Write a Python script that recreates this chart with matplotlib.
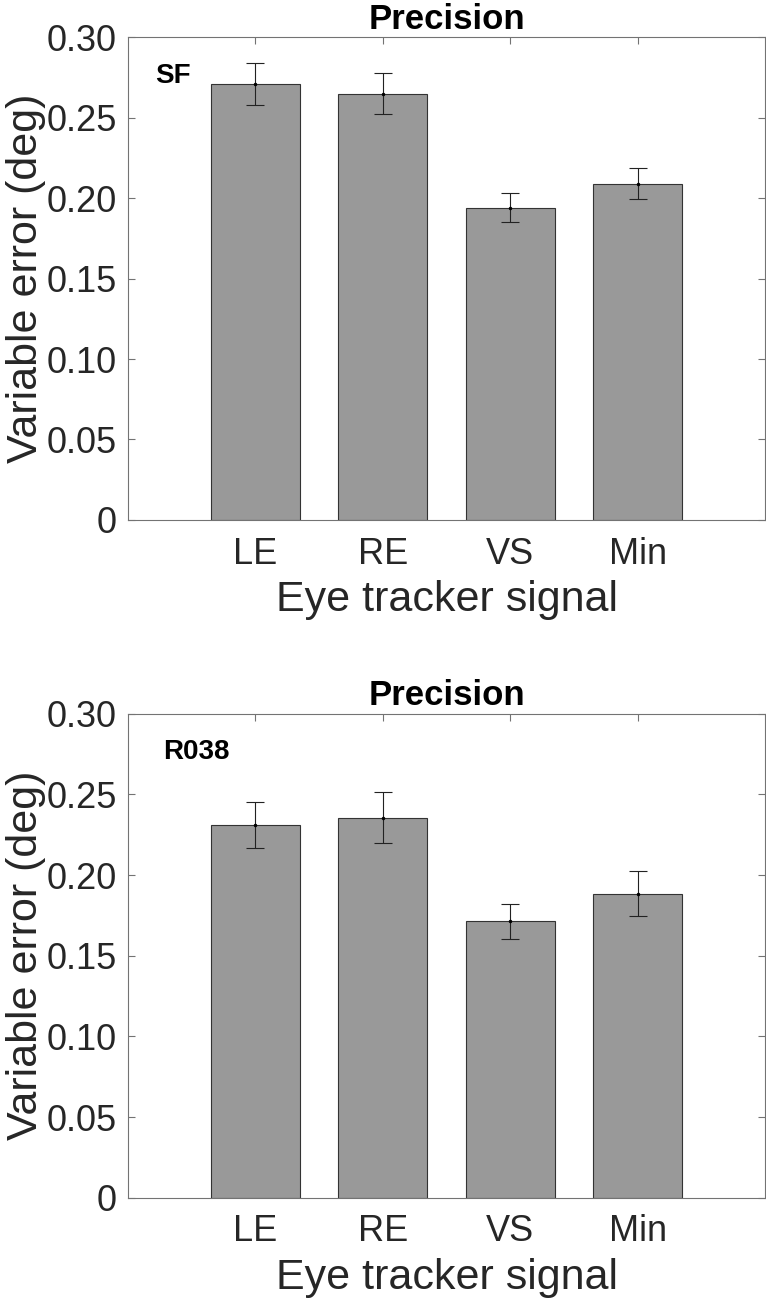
import matplotlib
matplotlib.use("Agg")
import matplotlib.pyplot as plt

plt.rcParams['font.family'] = ['Liberation Sans', 'DejaVu Sans']

signals = ['LE', 'RE', 'VS', 'Min']
sf_mean = [0.271, 0.265, 0.194, 0.209]
sf_err = [0.013, 0.0128, 0.009, 0.0095]
r038_mean = [0.231, 0.2355, 0.1713, 0.1884]
r038_err = [0.0142, 0.0158, 0.011, 0.0138]
panel_names = ['SF', 'R038']
name_x = [0.21, 0.275]
yticks = [0, 0.05, 0.10, 0.15, 0.20, 0.25, 0.30]
ytick_labels = ['0', '0.05', '0.10', '0.15', '0.20', '0.25', '0.30']

fig = plt.figure(figsize=(7.66, 13.03), dpi=100)
ax1 = fig.add_axes([0.167, 0.601, 0.832, 0.3703])
ax2 = fig.add_axes([0.167, 0.0808, 0.832, 0.3715])

axis_col = '0.45'
data = [(sf_mean, sf_err), (r038_mean, r038_err)]

for ax, (m, e), name, nx in zip([ax1, ax2], data, panel_names, name_x):
    x = range(1, len(signals) + 1)
    ax.bar(x, m, width=0.7, color='#999999', edgecolor='#333333', linewidth=0.8, zorder=2)
    ax.errorbar(x, m, yerr=e, fmt='.', color='black', ecolor='#222222',
                markersize=3, elinewidth=0.8, capsize=6.5, capthick=0.8, zorder=3)
    ax.set_xlim(0, 5)
    ax.set_ylim(0, 0.3)
    ax.set_xticks(list(x))
    ax.set_xticklabels(signals)
    ax.set_yticks(yticks)
    ax.set_yticklabels(ytick_labels)
    ax.tick_params(direction='in', length=5, width=0.8, color=axis_col,
                   labelsize=26, labelcolor='#262626', top=True, right=True, pad=8)
    ax.tick_params(axis='x', pad=12)
    for s in ax.spines.values():
        s.set_color(axis_col)
        s.set_linewidth(0.8)
    ax.set_xlabel('Eye tracker signal', fontsize=31, color='#262626', labelpad=6)
    ax.set_ylabel('Variable error (deg)', fontsize=31, color='#262626', labelpad=0)
    ax.set_title('Precision', fontsize=25, fontweight='bold', pad=6)
    ax.text(nx, 0.276, name, fontsize=20, fontweight='bold', ha='left', va='center')

fig.savefig('out.png', dpi=100)
